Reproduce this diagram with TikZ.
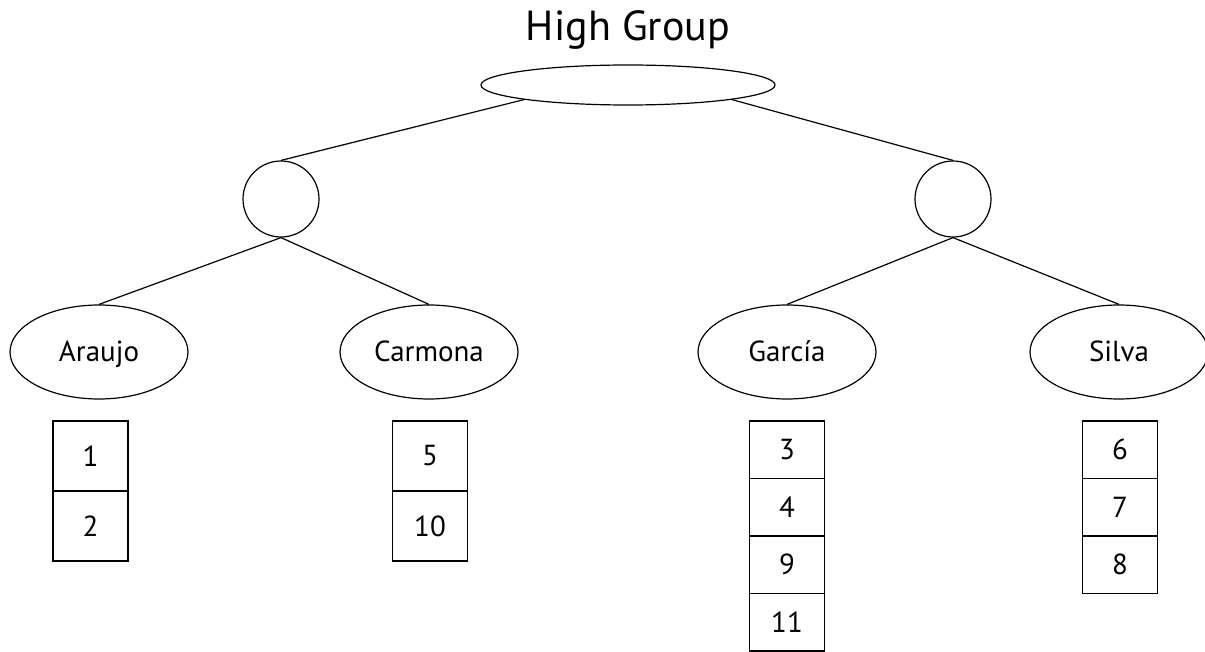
\documentclass[tikz,border=0pt]{standalone}
\usepackage{fontspec}
\setmainfont{PT Sans}
\usetikzlibrary{positioning,shapes.geometric}
\tikzset{
  group/.style={draw, ellipse, line width=1.2pt, inner sep=0pt,
                minimum width=178pt, minimum height=94pt,
                text height=20pt, text depth=0pt,
                font=\fontsize{29}{33}\selectfont},
  split/.style={draw, circle, line width=1.2pt, minimum size=76pt, inner sep=0pt},
  cell/.style={draw, rectangle, line width=1.2pt, outer sep=0pt,
               minimum width=75pt, font=\fontsize{29}{33}\selectfont},
  tallcell/.style={cell, minimum height=70pt},
  shortcell/.style={cell, minimum height=57.5pt},
  link/.style={line width=1.2pt}
}
\begin{document}
\begin{tikzpicture}[x=1pt,y=-1pt,node distance=0pt]
  \useasboundingbox (0,0) rectangle (1205,652);
  \node[font=\fontsize{42}{48}\selectfont] (title) at (628,30) {High Group};
  \node[draw, ellipse, line width=1.2pt, inner sep=0pt,
        minimum width=294pt, minimum height=40pt] (root) at (628,85) {};
  \node[split] (lsplit) at (281,199) {};
  \node[split] (rsplit) at (953,199) {};
  \node[group] (araujo) at (99,352) {Araujo};
  \node[group] (carmona) at (429,352) {Carmona};
  \node[group] (garcia) at (787,352) {García};
  \node[group] (silva) at (1119,352) {Silva};
  % member lists
  \node[tallcell] (n1) at (90.5,456) {1};
  \node[tallcell, below=of n1] (n2) {2};
  \node[tallcell] (n5) at (430,456) {5};
  \node[tallcell, below=of n5] (n10) {10};
  \node[shortcell] (n3) at (787,449.75) {3};
  \node[shortcell, below=of n3] (n4) {4};
  \node[shortcell, below=of n4] (n9) {9};
  \node[shortcell, below=of n9] (n11) {11};
  \node[shortcell] (n6) at (1120,449.75) {6};
  \node[shortcell, below=of n6] (n7) {7};
  \node[shortcell, below=of n7] (n8) {8};
  % tree edges
  \draw[link] (root.188) -- (lsplit.north);
  \draw[link] (root.352) -- (rsplit.north);
  \draw[link] (lsplit.south) -- (araujo.north);
  \draw[link] (lsplit.south) -- (carmona.north);
  \draw[link] (rsplit.south) -- (garcia.north);
  \draw[link] (rsplit.south) -- (silva.north);
\end{tikzpicture}
\end{document}
